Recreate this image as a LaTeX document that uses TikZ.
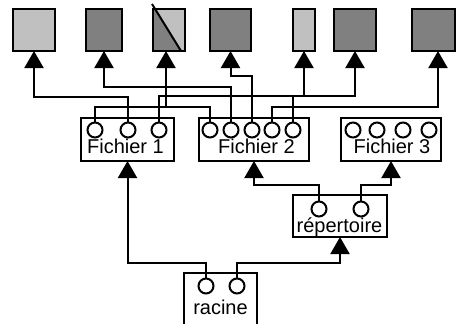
\documentclass[tikz,border=0pt]{standalone}
\usepackage{fontspec}
\setmainfont{Liberation Sans}
\usetikzlibrary{arrows.meta}
\definecolor{lg}{HTML}{C0C0C0}
\definecolor{dg}{HTML}{808080}
\begin{document}
\begin{tikzpicture}[x=1pt,y=-1pt,
  ln/.style={line width=2pt},
  arr/.style={ln,-{Triangle[width=19pt,length=17pt]}},
  sq/.style={draw,line width=2.2pt,inner sep=0pt,outer sep=0pt,minimum height=42pt},
  filebox/.style={draw,line width=2pt,inner sep=0pt,outer sep=0pt},
  port/.style={circle,draw,line width=2pt,minimum size=15pt,inner sep=0pt,outer sep=0pt},
  lab/.style={inner sep=0pt,anchor=base,font=\fontsize{20}{24}\selectfont}]
\useasboundingbox (0,0) rectangle (456,324);
% squares
\node[sq,fill=lg,minimum width=42pt] (s1) at (34,30) {};
\node[sq,fill=dg,minimum width=36pt] (s2) at (104,30) {};
\node[sq,fill=dg,minimum width=32pt] (s3) at (169,30) {};
\node[sq,fill=dg,minimum width=41pt] (s4) at (230.5,30) {};
\node[sq,fill=lg,minimum width=22pt] (s5) at (304,30) {};
\node[sq,fill=dg,minimum width=42pt] (s6) at (355,30) {};
\node[sq,fill=dg,minimum width=43pt] (s7) at (433.5,30) {};
\fill[lg] (154.5,9) -- (s3.north east) -- (s3.south east) -- (181,51) -- cycle;
\draw[line width=2.2pt] (s3.south west) rectangle (s3.north east);
\draw[ln] (152,4) -- (181,51);
% boxes
\node[filebox,minimum width=93pt,minimum height=43pt] (f1) at (127.5,139.5) {};
\node[filebox,minimum width=110pt,minimum height=43pt] (f2) at (254,139.5) {};
\node[filebox,minimum width=100pt,minimum height=43pt] (f3) at (391,139.5) {};
\node[filebox,minimum width=94pt,minimum height=42pt] (rep) at (340,216) {};
\node[inner sep=0pt,outer sep=0pt,minimum width=73pt,minimum height=60pt] (rac) at (220.5,303) {};
\draw[ln] (rac.south west) -- (rac.north west) -- (rac.north east) -- (rac.south east);
% labels
\node[lab] (f1l) at (125.5,153) {Fichier 1};
\node[lab] (f2l) at (256.5,153) {Fichier 2};
\node[lab] (f3l) at (392,153) {Fichier 3};
\node[lab] (repl) at (339.5,232) {répertoire};
\node[lab] (racl) at (220.5,314) {racine};
% ports
\node[port] (f1p1) at (95,130) {};
\node[port] (f1p2) at (128,130) {};
\node[port] (f1p3) at (159,130) {};
\node[port] (f2p1) at (210,130) {};
\node[port] (f2p2) at (231,130) {};
\node[port] (f2p3) at (252,130) {};
\node[port] (f2p4) at (272,130) {};
\node[port] (f2p5) at (293,130) {};
\node[port] (f3p1) at (353,130) {};
\node[port] (f3p2) at (377,130) {};
\node[port] (f3p3) at (403,130) {};
\node[port] (f3p4) at (429,130) {};
\node[port] (repp1) at (319,209) {};
\node[port] (repp2) at (361,209) {};
\node[port] (racp1) at (206,286) {};
\node[port] (racp2) at (237,286) {};
% levels
\coordinate (y76) at (0,76);
\coordinate (y87) at (0,87);
\coordinate (y96) at (0,96);
\coordinate (y97) at (0,97);
\coordinate (y107) at (0,107);
\coordinate (y185) at (0,185);
\coordinate (y263) at (0,263);
\coordinate (s3in) at ([xshift=-3pt]s3.south);
\coordinate (s7in) at ([xshift=4.5pt]s7.south);
% upper connectors
\draw[arr] (f1p2.north) -- (f1p2.north |- y97) -| (s1.south);
\draw[arr] (f2p2.north) -- (f2p2.north |- y87) -| (s2.south);
\draw[ln] (f1p1.north) -- (f1p1.north |- y107) -- (f2p1.north |- y107) -- (f2p1.north);
\draw[arr] (s3in |- y107) -- (s3in);
\draw[arr] (f2p3.north) -- (f2p3.north |- y76) -| (s4.south);
\draw[arr] (f1p3.north) -- (f1p3.north |- y96) -| (s6.south);
\draw[ln] (f2p5.north) -- (f2p5.north |- y96);
\draw[arr] (s5.south |- y96) -- (s5.south);
\draw[arr] (f2p4.north) -- (f2p4.north |- y107) -| (s7in);
% lower connectors
\draw[arr] (racp1.north) -- (racp1.north |- y263) -| (f1.south);
\draw[arr] (racp2.north) -- (racp2.north |- y263) -| (rep.south);
\draw[arr] (repp1.north) -- (repp1.north |- y185) -| (f2.south);
\draw[arr] (repp2.north) -- (repp2.north |- y185) -| (f3.south);
\end{tikzpicture}
\end{document}
